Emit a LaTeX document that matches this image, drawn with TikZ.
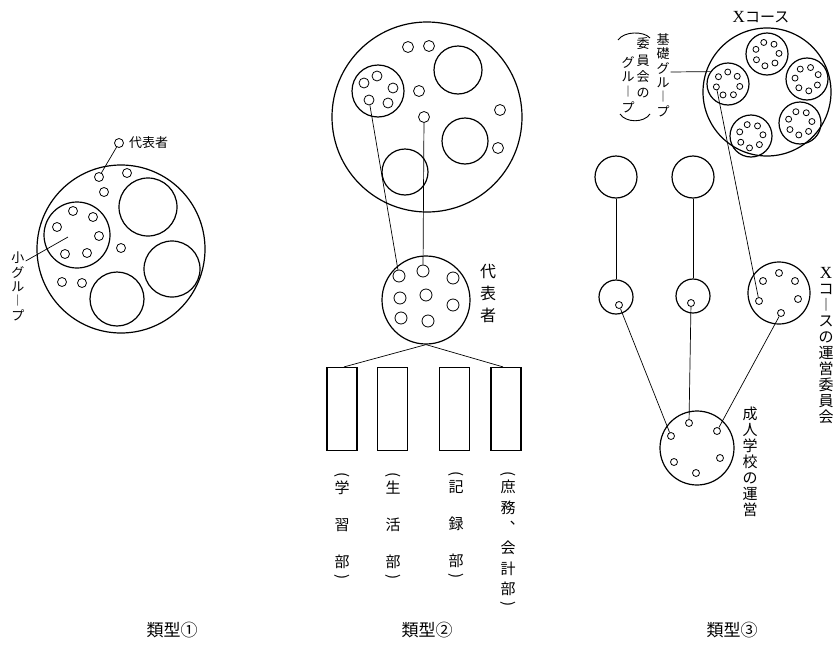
\documentclass[tikz,border=0pt]{standalone}
\usepackage{fontspec}
\setmainfont{Noto Sans CJK JP}
\newfontfamily\vjp{Noto Sans CJK JP}
\newfontfamily\serifx{Liberation Serif}
\usetikzlibrary{calc}
\newcommand{\cnode}[5][ring]{\node[#1,minimum size={2*#5}] (#2) at ({#3},{#4}) {};}
\newcommand{\vcol}[6]{\foreach \ch [count=\k] in {#6} {\node[inner sep=0pt,font=\vjp\fontsize{#5}{#5}\selectfont] (#1-\k) at (#2,{#3+#4*(\k-1)}) {\ch};}}
\begin{document}
\begin{tikzpicture}[x=1pt,y=-1pt,
  ring/.style={circle,draw,inner sep=0pt,line width=1.2pt},
  dot/.style={circle,draw,inner sep=0pt,line width=0.8pt},
  conn/.style={line width=0.7pt},
  box/.style={draw,line width=1.2pt,minimum width=30pt,minimum height=83pt,inner sep=0pt},
  captxt/.style={font=\fontsize{17}{17}\selectfont,inner sep=0pt},
  partxt/.style={inner sep=0pt,rotate=-90,font=\vjp\fontsize{15}{15}\selectfont}]
\useasboundingbox (0,0) rectangle (835,648);
% ---------------- Type 1
\cnode{A}{121}{249}{84}
\cnode{Ag}{77}{235}{33}
\cnode{Al1}{148}{207}{29}
\cnode{Al2}{172}{269}{28}
\cnode{Al3}{117}{299}{27}
\foreach \x/\y [count=\i] in {73/211,93/217,57/227,99/236,65/254,87/253}
  {\cnode[dot]{Agd\i}{\x}{\y}{4.5}}
\foreach \x/\y [count=\i] in {99/177,127/173,104/192,121/248,62/282,82/283}
  {\cnode[dot]{Af\i}{\x}{\y}{4.5}}
\cnode[dot]{Arep}{119}{143}{4.5}
\node[anchor=west,inner sep=0pt,font=\fontsize{13}{13}\selectfont] (Areplbl) at (129,143) {代表者};
\draw[conn] (Arep) -- (Af1);
\vcol{Alab}{18}{258}{14.3}{13}{小,グ,ル,︱,プ}
\coordinate (Aend) at (68,237);
\draw[conn] ($(Alab-1.east)+(1,3)$) -- (Aend);
% ---------------- Type 2
\cnode{B}{427}{117}{95}
\cnode{Bg}{378}{91}{26}
\foreach \x/\y [count=\i] in {364/83,377/76,393/88,369/100,388/103}
  {\cnode[dot]{Bgd\i}{\x}{\y}{5}}
\foreach \x/\y [count=\i] in {408/47,429/46,419/91,424/117,500/110,498/148}
  {\cnode[dot]{Bf\i}{\x}{\y}{5.5}}
\cnode{Bl1}{458}{70}{24}
\cnode{Bl2}{465}{141}{23}
\cnode{Bl3}{405}{172}{23}
\cnode{Br}{426}{300}{44}
\foreach \x/\y [count=\i] in {399/276,423/271,453/278,400/298,426/295,453/305,401/318,428/321}
  {\cnode[dot]{Brd\i}{\x}{\y}{6}}
\draw[conn] (Bgd4) -- (Brd1);
\draw[conn] (Bf4) -- (Brd2);
\vcol{Brl}{488}{272}{21.5}{16}{代,表,者}
\node[box] (Bb1) at (342,409) {};
\node[box] (Bb2) at (392.5,409) {};
\node[box] (Bb3) at (454.5,409) {};
\node[box] (Bb4) at (506,409) {};
\draw[conn] (Br.south) -- ($(Bb1.north)+(2,0)$);
\draw[conn] (Br.south) -- ($(Bb4.north)+(-3,0)$);
\vcol{L1}{342}{488}{37}{15}{学,習,部}
\node[partxt] (L1o) at (342,475) {(};
\node[partxt] (L1c) at (342,577) {)};
\vcol{L2}{393}{488}{37}{15}{生,活,部}
\node[partxt] (L2o) at (393,475) {(};
\node[partxt] (L2c) at (393,577) {)};
\vcol{L3}{456}{487}{37}{15}{記,録,部}
\node[partxt] (L3o) at (456,474) {(};
\node[partxt] (L3c) at (456,576) {)};
\vcol{L4}{508}{487}{20.4}{15}{庶,務,︑,会,計,部}
\node[partxt] (L4o) at (508,474) {(};
\node[partxt] (L4c) at (508,604) {)};
% ---------------- Type 3
\cnode{C}{767}{92}{64}
\foreach \s/\cx/\cy/\t in {1/767/54/100,2/807/79/30,3/800/123/250,4/751/136/200,5/728/84/166}{
  \cnode{s\s}{\cx}{\cy}{21}
  \foreach \k in {0,...,6}{
    \cnode[dot]{s\s-\k}{\cx+12*cos(\t+\k*360/7)}{\cy+12*sin(\t+\k*360/7)}{3}
  }
}
\node[inner sep=0pt,font=\fontsize{15}{15}\selectfont] (Xc) at (761,17) {{\serifx\fontsize{17}{17}\selectfont X}コース};
\vcol{kiso}{663}{39}{14.5}{13}{基,礎,グ,ル,︱,プ}
\draw[conn] ($(kiso-3.east)+(1,4)$) -- (s5.145);
\vcol{iin}{643}{44}{16.5}{13}{委,員,会,の}
\vcol{grp}{628}{62}{15}{13}{グ,ル,︱,プ}
\draw[line width=0.9pt] (618,40) .. controls (624,31) and (644,31) .. (650,38);
\draw[line width=0.9pt] (620,114) .. controls (626,123) and (644,123) .. (650,114);
\cnode{t1}{616}{177}{21}
\cnode{t2}{693}{177}{21}
\cnode{m1}{616}{297}{17}
\cnode{m2}{693}{296}{17}
\draw[conn] (t1) -- (m1);
\draw[conn] (t2) -- (m2);
\cnode[dot]{m1d}{619}{305}{3.5}
\cnode[dot]{m2d}{691}{303}{3.5}
\cnode{Cx}{779}{293}{31}
\foreach \x/\y [count=\i] in {763/281,779/273,795/281,798/299,781/313,759/301}
  {\cnode[dot]{Cxd\i}{\x}{\y}{3.5}}
\cnode{Cb}{697}{448}{37}
\foreach \x/\y [count=\i] in {671/436,689/423,717/431,720/458,696/473,674/462}
  {\cnode[dot]{Cbd\i}{\x}{\y}{3.5}}
\draw[conn] (m1d) -- (Cbd1);
\draw[conn] (m2d) -- (Cbd2);
\draw[conn] (Cxd5) -- (Cbd3);
\draw[conn] (s5-0) -- (Cxd6);
\vcol{sei}{750}{414}{16}{15}{成,人,学,校,の,運,営}
\vcol{xun}{826}{273}{16}{15}{{\serifx\fontsize{17}{17}\selectfont X},コ,︱,ス,の,運,営,委,員,会}
% ---------------- captions
\node[captxt] (cap1) at (172,630) {類型①};
\node[captxt] (cap2) at (427,630) {類型②};
\node[captxt] (cap3) at (732,630) {類型③};
\end{tikzpicture}
\end{document}
